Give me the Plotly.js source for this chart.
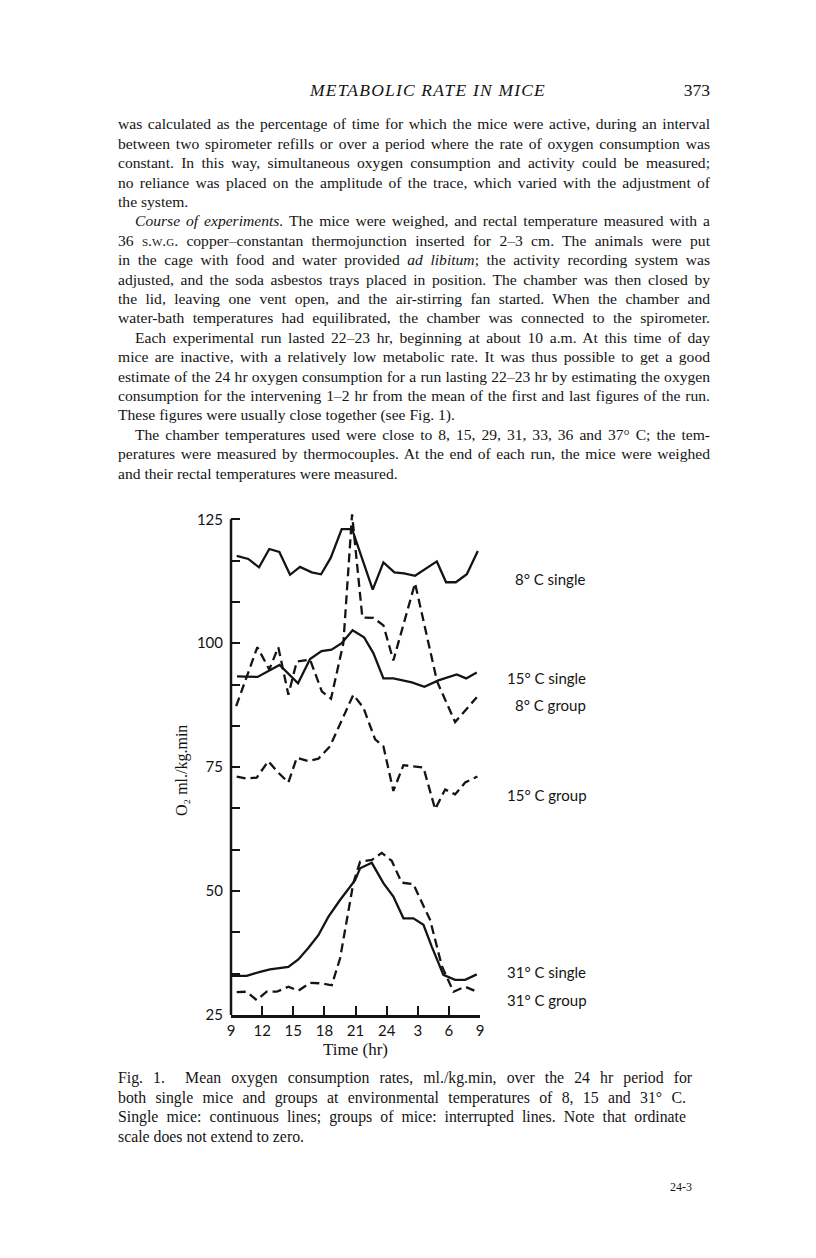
<!DOCTYPE html>
<html><head><meta charset="utf-8">
<script src="https://cdn.plot.ly/plotly-3.0.1.min.js"></script>
<style>
html,body{margin:0;padding:0;background:#fff;}
#page{position:relative;width:816px;height:1258px;overflow:hidden;background:#fff;}
#chart{position:absolute;left:0;top:0;width:816px;height:1258px;}
.ln{position:absolute;white-space:nowrap;font-family:"Liberation Serif","Times New Roman",serif;font-size:15px;color:#141414;line-height:1;}
</style></head>
<body><div id="page"><div id="chart"></div></div>
<script>
// ---------- data ----------
const hoursSingle8 = [9.55,10.67,11.7,12.69,13.66,14.69,15.65,16.78,17.68,18.61,19.67,20.67,22.66,23.69,24.75,25.68,26.74,28.84,29.73,30.67,31.73,32.79];
const o2Single8    = [117.6,117.0,115.3,119.0,118.4,113.8,115.4,114.3,113.9,117.2,123.0,123.0,110.8,116.3,114.3,114.1,113.6,116.5,112.3,112.3,113.9,118.6];

const hoursGroup8  = [9.5,11.54,12.69,13.56,14.53,15.34,16.62,17.75,18.64,19.83,20.67,21.66,22.72,23.69,24.65,26.74,28.86,30.6,32.69];
const o2Group8     = [87.3,99.2,94.7,99.2,89.6,96.3,96.7,90.3,88.8,100.0,126.0,105.2,105.1,103.6,96.5,112.1,92.3,84.1,89.1];

const hoursSingle15 = [9.58,11.56,13.68,15.46,16.62,17.73,18.69,19.67,20.72,21.82,22.72,23.69,24.65,26.43,27.64,28.99,30.76,31.66,32.69];
const o2Single15    = [93.3,93.2,95.6,91.9,96.8,98.4,98.7,100.0,102.6,101.2,98.0,92.9,92.9,92.1,91.2,92.5,93.7,92.9,94.1];

const hoursGroup15 = [9.55,10.51,11.48,12.6,13.41,14.53,15.34,16.45,17.42,18.54,20.79,21.76,22.89,23.69,24.65,25.62,27.55,28.68,29.64,30.6,31.57,32.75];
const o2Group15    = [73.1,72.7,72.9,76.2,74.2,71.9,76.9,76.2,76.7,79.2,89.6,87.0,80.6,79.2,70.2,75.4,74.9,66.5,70.5,69.5,71.9,73.1];

const hoursSingle31 = [9.07,10.51,11.8,12.76,14.53,15.49,16.45,17.42,18.38,19.51,20.96,21.44,22.57,23.69,24.65,25.62,26.58,27.55,28.35,29.47,30.6,31.57,32.69];
const o2Single31    = [32.9,32.9,33.7,34.2,34.7,36.2,38.5,41.1,44.8,48.2,52.2,54.6,55.7,51.6,48.9,44.5,44.5,43.2,38.8,33.1,32.1,32.1,33.2];

const hoursGroup31 = [9.55,10.51,11.48,12.44,13.41,14.53,15.49,16.62,17.58,18.71,19.51,20.79,21.44,22.57,23.53,24.49,25.45,26.58,27.06,28.19,29.32,30.44,31.57,32.69];
const o2Group31    = [29.6,29.7,28.0,29.7,29.7,30.7,29.9,31.5,31.4,31.0,36.4,51.6,55.9,56.3,57.7,56.1,51.7,51.4,49.2,44.2,34.9,29.7,30.7,29.7];

const xTickVals = [9,12,15,18,21,24,27,30,33];
const xTickText = ['9','12','15','18','21','24','3','6','9'];
const yTickVals = [25,50,75,100,125];
const yTickText = ['25','50','75','100','125'];
const yMinorTickVals = [33.333,41.667,58.333,66.667,83.333,91.667,108.333,116.667];

const seriesLabels = ['8° C single','15° C single','8° C group','15° C group','31° C single','31° C group'];
const yTitle = 'O₂ ml./kg.min';
const xTitle = 'Time (hr)';

// ---------- layout helpers ----------
const W = 816, H = 1258;
const px = v => v / W, py = v => 1 - v / H;
const ink = '#141414';
const solid = {color: ink, width: 2.3};
const dashed = {color: ink, width: 2.3, dash: '9px,5px'};

const traces = [
  {x: hoursSingle8,  y: o2Single8,  line: solid,  name: seriesLabels[0]},
  {x: hoursSingle15, y: o2Single15, line: solid,  name: seriesLabels[1]},
  {x: hoursGroup8,   y: o2Group8,   line: dashed, name: seriesLabels[2]},
  {x: hoursGroup15,  y: o2Group15,  line: dashed, name: seriesLabels[3]},
  {x: hoursSingle31, y: o2Single31, line: solid,  name: seriesLabels[4]},
  {x: hoursGroup31,  y: o2Group31,  line: dashed, name: seriesLabels[5]}
].map(t => Object.assign({type: 'scatter', mode: 'lines', hoverinfo: 'skip', showlegend: false}, t));

const labelPos = [[513, 579], [505, 678], [513, 705], [505, 795], [505, 972], [505, 1000]];
const annotations = seriesLabels.map((s, i) => ({
  text: s, xref: 'paper', yref: 'paper', x: px(labelPos[i][0]), y: py(labelPos[i][1]),
  xanchor: 'left', yanchor: 'middle', showarrow: false,
  font: {family: 'Lato, "Open Sans", sans-serif', size: 15, color: ink}
}));
annotations.push({
  text: yTitle, xref: 'paper', yref: 'paper', x: px(182), y: py(771),
  xanchor: 'center', yanchor: 'middle', textangle: -90, showarrow: false,
  font: {family: '"Liberation Serif", "DejaVu Serif", serif', size: 16, color: ink}
});

const layout = {
  width: W, height: H, margin: {l: 0, r: 0, t: 0, b: 0},
  paper_bgcolor: 'rgba(0,0,0,0)', plot_bgcolor: 'rgba(0,0,0,0)',
  xaxis: {
    domain: [px(231), px(480)], range: [9, 33], tickmode: 'array',
    tickvals: xTickVals, ticktext: xTickText, ticks: 'inside', ticklen: 9, tickwidth: 2, tickcolor: ink,
    showline: true, linewidth: 2.5, linecolor: ink, showgrid: false, zeroline: false,
    tickfont: {family: 'Lato, "Open Sans", sans-serif', size: 15, color: ink},
    title: {text: xTitle, font: {family: '"Liberation Serif", serif', size: 17, color: ink}, standoff: 6},
    fixedrange: true
  },
  yaxis: {
    domain: [py(1015), py(504.4)], range: [25, 128], tickmode: 'array',
    tickvals: yTickVals, ticktext: yTickText, ticks: 'inside', ticklen: 9, tickwidth: 2, tickcolor: ink,
    ticklabelstandoff: 7,
    minor: {tickmode: 'array', tickvals: yMinorTickVals, ticks: 'inside', ticklen: 9, tickwidth: 2, tickcolor: ink, showgrid: false},
    showline: false, showgrid: false, zeroline: false,
    tickfont: {family: 'Lato, "Open Sans", sans-serif', size: 15, color: ink},
    fixedrange: true
  },
  shapes: [{type: 'line', xref: 'paper', yref: 'y', x0: px(231), x1: px(231), y0: 25, y1: 125,
            line: {color: ink, width: 2.5}}],
  annotations: annotations
};

Plotly.newPlot('chart', traces, layout, {staticPlot: true, displayModeBar: false});

// ---------- page text ----------
const page = document.getElementById('page');
const L = 118, R = 710;
const bodyLines = [
  ['was calculated as the percentage of time for which the mice were active, during an interval', 0, 1],
  ['between two spirometer refills or over a period where the rate of oxygen consumption was', 0, 1],
  ['constant. In this way, simultaneous oxygen consumption and activity could be measured;', 0, 1],
  ['no reliance was placed on the amplitude of the trace, which varied with the adjustment of', 0, 1],
  ['the system.', 0, 0],
  ['<i>Course of experiments.</i> The mice were weighed, and rectal temperature measured with a', 17, 1],
  ['36 <span style="font-variant:small-caps">s.w.g.</span> copper–constantan thermojunction inserted for 2–3 cm. The animals were put', 0, 1],
  ['in the cage with food and water provided <i>ad libitum</i>; the activity recording system was', 0, 1],
  ['adjusted, and the soda asbestos trays placed in position. The chamber was then closed by', 0, 1],
  ['the lid, leaving one vent open, and the air-stirring fan started. When the chamber and', 0, 1],
  ['water-bath temperatures had equilibrated, the chamber was connected to the spirometer.', 0, 1],
  ['Each experimental run lasted 22–23 hr, beginning at about 10 a.m. At this time of day', 17, 1],
  ['mice are inactive, with a relatively low metabolic rate. It was thus possible to get a good', 0, 1],
  ['estimate of the 24 hr oxygen consumption for a run lasting 22–23 hr by estimating the oxygen', 0, 1],
  ['consumption for the intervening 1–2 hr from the mean of the first and last figures of the run.', 0, 1],
  ['These figures were usually close together (see Fig. 1).', 0, 0],
  ['The chamber temperatures used were close to 8, 15, 29, 31, 33, 36 and 37° C; the tem-', 17, 1],
  ['peratures were measured by thermocouples. At the end of each run, the mice were weighed', 0, 1],
  ['and their rectal temperatures were measured.', 0, 0]
];
const captionLines = [
  ['Fig. 1.&nbsp; Mean oxygen consumption rates, ml./kg.min, over the 24 hr period for', 0, 1],
  ['both single mice and groups at environmental temperatures of 8, 15 and 31° C.', 0, 1],
  ['Single mice: continuous lines; groups of mice: interrupted lines. Note that ordinate', 0, 1],
  ['scale does not extend to zero.', 0, 0]
];

function addLine(html, left, right, yc, justify, size, extra) {
  const d = document.createElement('div');
  d.className = 'ln';
  d.innerHTML = html;
  d.style.left = left + 'px';
  d.style.fontSize = size + 'px';
  d.style.top = (yc - size * 0.55) + 'px';
  if (extra) Object.assign(d.style, extra);
  page.appendChild(d);
  if (justify) {
    const w = d.getBoundingClientRect().width;
    const n = (d.textContent.match(/ /g) || []).length;
    if (n > 0) d.style.wordSpacing = ((right - left - w) / n) + 'px';
  }
  return d;
}

bodyLines.forEach((b, i) => addLine(b[0], L + b[1], R, 125 + 19.4 * i, b[2], 15.6));
captionLines.forEach((b, i) => addLine(b[0], L, 686, 1079 + 19.4 * i, b[2], 15.8));

const head = addLine('METABOLIC RATE IN MICE', 0, 0, 92, 0, 17.5, {fontStyle: 'italic', letterSpacing: '1.2px'});
head.style.left = (428 - head.getBoundingClientRect().width / 2) + 'px';
const pg = addLine('373', 0, 0, 92, 0, 17.5);
pg.style.left = (710 - pg.getBoundingClientRect().width) + 'px';
const sig = addLine('24-3', 0, 0, 1188, 0, 12);
sig.style.left = (692 - sig.getBoundingClientRect().width) + 'px';
</script>
</body></html>
